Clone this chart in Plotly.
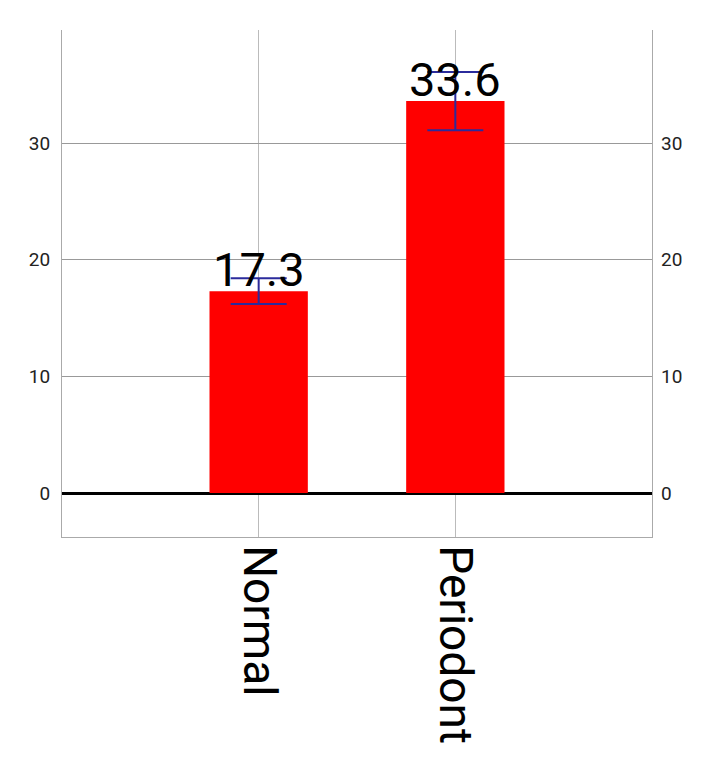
import plotly.graph_objects as go

categories = ["Normal", "Periodont"]
means = [17.3, 33.6]
errors = [1.1, 2.5]
y_ticks = [0, 10, 20, 30]

y_range = [-3.77, 39.69]

fig = go.Figure()
fig.add_trace(go.Bar(
    x=categories, y=means, width=0.5,
    marker=dict(color="#ff0000", line=dict(width=0)),
    error_y=dict(type="data", array=errors, color="#2b2b9c", thickness=2, width=28),
    cliponaxis=False, showlegend=False,
))
fig.add_trace(go.Scatter(
    x=categories, y=means, yaxis="y2", mode="none",
    showlegend=False, hoverinfo="skip",
))

for c, v in zip(categories, means):
    fig.add_annotation(
        x=c, y=v, text=str(v), showarrow=False,
        xanchor="center", yanchor="bottom", yshift=-8,
        font=dict(size=47, color="black", family="Roboto"),
    )

# page body adds an 8px margin, so the figure is sized to fit the window
fig.update_layout(
    width=706, height=759,
    margin=dict(l=54, r=62, t=22, b=230, autoexpand=False),
    paper_bgcolor="white", plot_bgcolor="white",
    font=dict(family="Roboto", color="#222"),
    showlegend=False,
    xaxis=dict(
        type="category", range=[-1, 2], tickvals=categories,
        tickangle=90, tickfont=dict(size=46, color="black"),
        showgrid=True, gridcolor="#bbbbbb", gridwidth=1,
        showline=True, linecolor="#aaaaaa", linewidth=1,
        ticks="", zeroline=False, automargin=False,
        ticklabelstandoff=-2,
    ),
    yaxis=dict(
        range=y_range, tickvals=y_ticks, tickfont=dict(size=19),
        showgrid=True, gridcolor="#999999", gridwidth=1,
        zeroline=True, zerolinecolor="black", zerolinewidth=3,
        showline=True, mirror=True, linecolor="#aaaaaa", linewidth=1,
        ticks="", ticklabelstandoff=7, automargin=False,
    ),
    yaxis2=dict(
        range=y_range, tickvals=y_ticks, tickfont=dict(size=19),
        overlaying="y", side="right", showgrid=False, zeroline=False,
        showline=False, ticks="", ticklabelstandoff=8, automargin=False,
    ),
)

fig.write_html("out.html")
